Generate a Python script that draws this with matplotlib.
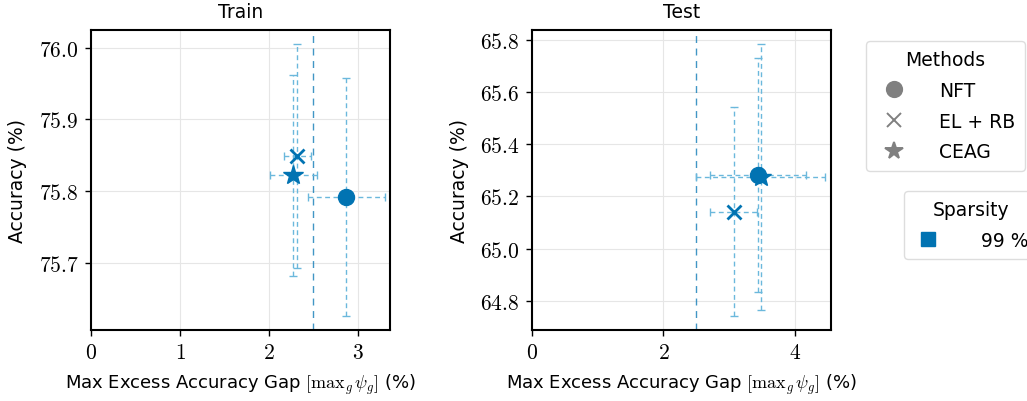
import numpy as np
import matplotlib
matplotlib.use("Agg")
import matplotlib.pyplot as plt
from matplotlib.lines import Line2D
from matplotlib.ticker import FuncFormatter

plt.rcParams['font.family'] = ['DejaVu Sans']
plt.rcParams['mathtext.fontset'] = 'cm'

methods = ["NFT", "EL + RB", "CEAG"]
markers = ["o", "x", "*"]
marker_sizes = [11.5, 10, 15]

# Train split
train_gap = [2.87, 2.32, 2.275]
train_gap_err = [0.43, 0.15, 0.265]
train_acc = [75.792, 75.849, 75.822]
train_acc_err = [0.166, 0.157, 0.14]

# Test split
test_gap = [3.44, 3.07, 3.48]
test_gap_err = [0.73, 0.355, 0.98]
test_acc = [65.282, 65.142, 65.275]
test_acc_err = [0.45, 0.40, 0.51]

tolerance = 2.5
blue = "#0173b2"
light = "#6bb8dc"

fig = plt.figure(figsize=(10.27, 4.02), dpi=100)
ax1 = fig.add_axes([91 / 1027, 71 / 402, 299 / 1027, 300 / 402])
ax2 = fig.add_axes([532 / 1027, 71 / 402, 299 / 1027, 300 / 402])


def draw(ax, gx, gxe, ay, aye, title, xlim, ylim, xticks, yticks):
    for i in range(len(methods)):
        eb = ax.errorbar(gx[i], ay[i], xerr=gxe[i], yerr=aye[i], fmt="none",
                         ecolor=light, elinewidth=1.0, capsize=3, capthick=1.0,
                         zorder=2)
        for c in eb[2]:
            c.set_linestyle((0, (3.5, 2.5)))
        ax.plot(gx[i], ay[i], linestyle="none", marker=markers[i],
                markersize=marker_sizes[i], color=blue,
                markeredgewidth=2.0 if markers[i] == "x" else 1.0, zorder=3)
    ax.axvline(tolerance, color=blue, alpha=0.75, linestyle=(0, (5, 4)),
               linewidth=1.0, zorder=1)
    ax.set_xlim(*xlim)
    ax.set_ylim(*ylim)
    ax.set_xticks(xticks)
    ax.set_yticks(yticks)
    ax.xaxis.set_major_formatter(FuncFormatter(lambda v, p: r"$%d$" % v))
    ax.yaxis.set_major_formatter(FuncFormatter(lambda v, p: r"$%.1f$" % v))
    ax.tick_params(labelsize=15.5, length=4, width=1.0, pad=5)
    ax.grid(True, color="#e6e6e6", linewidth=0.8, zorder=0)
    ax.set_axisbelow(True)
    for s in ax.spines.values():
        s.set_linewidth(1.5)
    ax.set_title(title, fontsize=13.5, pad=9)
    ax.set_ylabel("Accuracy (%)", fontsize=13.5, labelpad=8)
    ax.set_xlabel(r"Max Excess Accuracy Gap $[\mathrm{max}_g\,\psi_g]$ (%)",
                  fontsize=13, labelpad=7)


draw(ax1, train_gap, train_gap_err, train_acc, train_acc_err, "Train",
     (0, 3.36), (75.606, 76.025), [0, 1, 2, 3], [75.7, 75.8, 75.9, 76.0])
draw(ax2, test_gap, test_gap_err, test_acc, test_acc_err, "Test",
     (0, 4.55), (64.688, 65.838), [0, 2, 4],
     [64.8, 65.0, 65.2, 65.4, 65.6, 65.8])

method_handles = [Line2D([], [], linestyle="none", marker=m, color="gray",
                         markersize=s, markeredgewidth=1.4)
                  for m, s in zip(markers, [11, 9.5, 13])]
leg1 = fig.legend(method_handles, methods, title="Methods", loc="upper left",
                  bbox_to_anchor=(866 / 1027, 1 - 42 / 402), fontsize=13.5,
                  title_fontsize=13.5, frameon=True, handletextpad=1.4,
                  handlelength=2.0, borderpad=0.5, labelspacing=0.62,
                  borderaxespad=0)
leg1.get_frame().set_edgecolor("#d5d5d5")

spar_handles = [Line2D([], [], linestyle="none", marker="s", color=blue,
                       markersize=10)]
leg2 = fig.legend(spar_handles, ["99 %"], title="Sparsity", loc="upper left",
                  bbox_to_anchor=(904 / 1027, 1 - 192 / 402), fontsize=13.5,
                  title_fontsize=13.5, frameon=True, handletextpad=2.0,
                  handlelength=1.6, borderpad=0.5, labelspacing=0.6,
                  borderaxespad=0)
leg2.get_frame().set_edgecolor("#d5d5d5")

fig.savefig("out.png", dpi=100)
